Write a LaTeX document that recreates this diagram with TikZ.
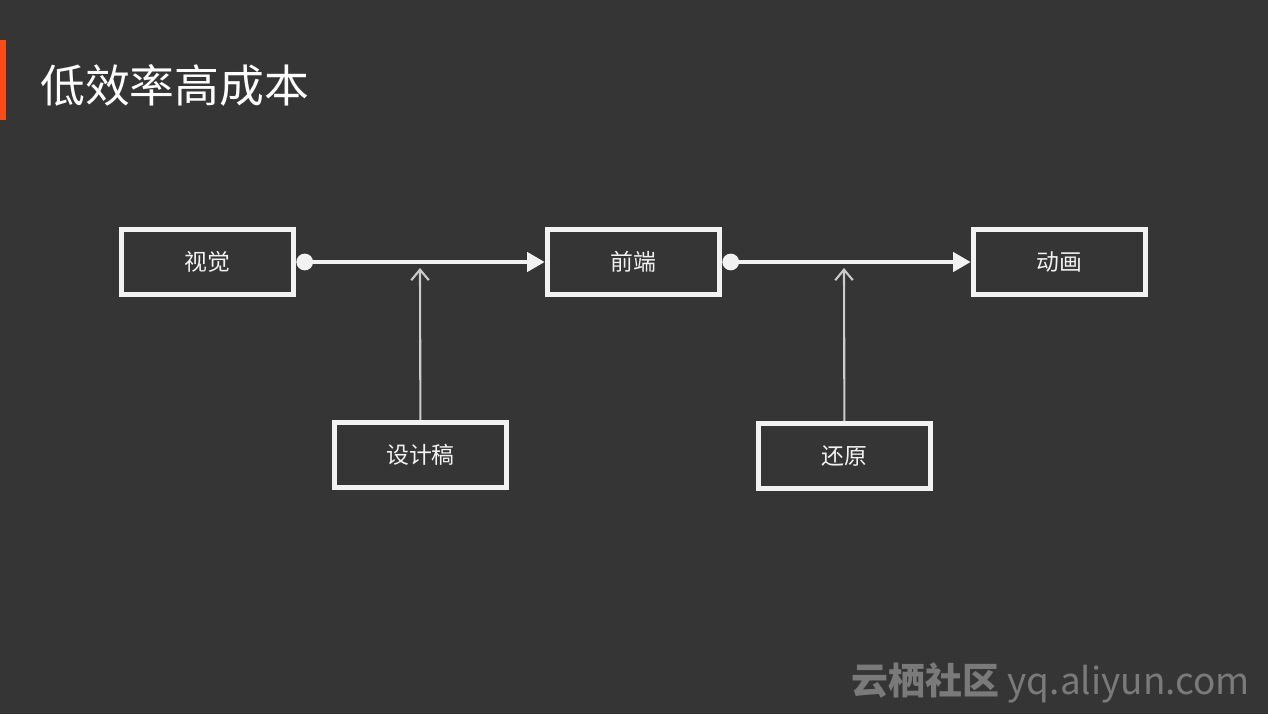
\documentclass[tikz,border=0pt]{standalone}
\usepackage{fontspec}
\setmainfont{Noto Sans CJK SC}
\newfontfamily\cjk{Noto Sans CJK SC}
\usetikzlibrary{arrows.meta}
\definecolor{board}{HTML}{353535}
\definecolor{chalk}{HTML}{F2F2F2}
\definecolor{accent}{HTML}{FF4A12}
\definecolor{mark}{HTML}{7A7A7A}
\begin{document}
\begin{tikzpicture}[x=0.02cm, y=-0.02cm,
  box/.style={draw=chalk, line width=3pt, rectangle, minimum width=3.45cm, minimum height=1.3cm, text=chalk, font=\cjk\fontsize{13}{15}\selectfont},
  flow/.style={draw=chalk, line width=2pt, {Circle[length=9.5pt]}-{Triangle[length=10pt,width=11pt]}},
  feed/.style={draw=chalk!80!board, line width=1.2pt, -{Straight Barb[length=6pt,width=10pt]}}]
  \useasboundingbox[fill=board] (0,0) rectangle (1268,714);
  \fill[accent] (0,40) rectangle (6,120);
  \node[anchor=west, text=white, font=\cjk\fontsize{25.5}{30}\selectfont] (title) at (34,85) {低效率高成本};

  \node[box] (visual) at (207.5,262) {视觉};
  \node[box] (front) at (633.5,262) {前端};
  \node[box] (anim) at (1059.5,262) {动画};
  \node[box] (draft) at (420.5,455) {设计稿};
  \node[box] (restore) at (844.5,456) {还原};

  \coordinate (hitA) at (420,268);
  \coordinate (hitB) at (844,268);

  \draw[flow] (visual) -- (front);
  \draw[flow] (front) -- (anim);
  \draw[feed] (draft) -- (hitA);
  \draw[feed] (restore) -- (hitB);

  \node[anchor=east, text=mark, font=\cjk\fontsize{21}{25}\selectfont] (brand) at (1256,683) {{\bfseries 云栖社区} yq.aliyun.com};
\end{tikzpicture}
\end{document}
